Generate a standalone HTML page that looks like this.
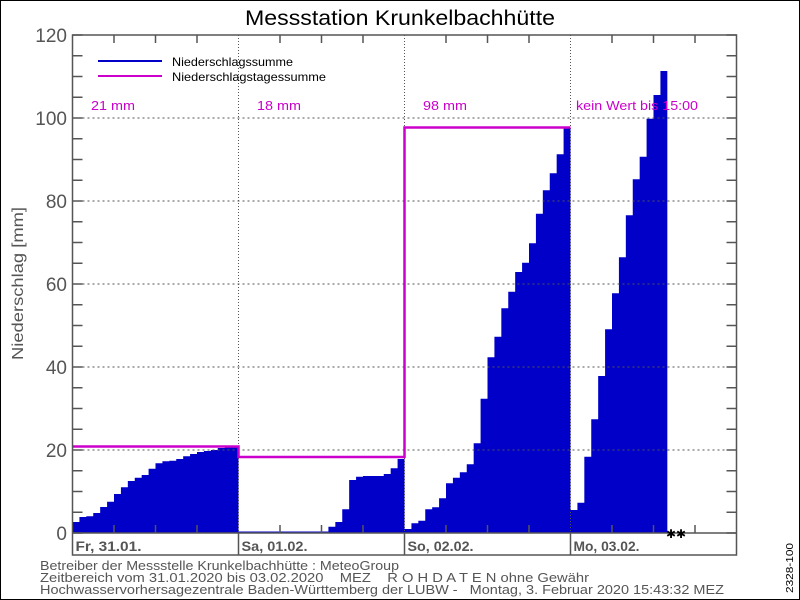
<!DOCTYPE html>
<html><head><meta charset="utf-8"><style>
html,body{margin:0;padding:0;background:#fff;}
svg{display:block;font-family:"Liberation Sans",sans-serif;}
</style></head><body>
<svg id="s" width="800" height="600" viewBox="0 0 800 600" xmlns="http://www.w3.org/2000/svg">
<rect x="0.5" y="0.5" width="799" height="599" fill="#fff" stroke="#000" stroke-width="1"/>
<text x="245" y="25" font-size="21" fill="#000" textLength="310" lengthAdjust="spacingAndGlyphs">Messstation Krunkelbachhütte</text>
</svg>
<script>
const S=document.getElementById('s');const NS='http://www.w3.org/2000/svg';
function el(t,a,txt){const e=document.createElementNS(NS,t);for(const k in a)e.setAttribute(k,a[k]);if(txt!==undefined)e.textContent=txt;S.appendChild(e);return e;}
const L=72.5,R=736.5,T=35,B=533,DW=166,BW=DW/24;
const yv=v=>B-v*4.15;
const days=[
[522,517,516.3,513,507,501.7,494,487.3,481,477.7,475,468.7,463.3,461.3,460.7,459,456.3,454,452,451,450,448,447.3,447.3],
[531.5,531.5,531.5,531.5,531.5,531.5,531.5,531.5,531.5,531.5,531.5,531.5,531.5,526.7,522,509.3,480,476.7,476,476,476,474,468.3,459],
[529,523.3,520.7,509.3,507.3,498.3,483.3,477.7,472.3,464.3,443.3,398.7,357.3,336.7,308.3,291.7,272,262.7,243.3,213.7,190.3,173.3,154.3,127.7],
[510,502.7,456.7,419.3,376,329.3,293.3,257.3,215.3,179.3,156.7,118.7,95,71]];
days.forEach((d,i)=>{let x0=L+i*DW;let p=`M${x0},${B}`;d.forEach((y,j)=>{p+=` L${x0+j*BW},${y} L${x0+(j+1)*BW},${y}`;});p+=` L${x0+d.length*BW},${B} Z`;el('path',{d:p,fill:'#0000c8'});});
[20,40,60,80,100].forEach(v=>el('line',{x1:L,x2:R,y1:yv(v),y2:yv(v),stroke:'#555','stroke-dasharray':'2,3','stroke-width':1}));
[1,2,3].forEach(i=>el('line',{x1:L+i*DW,x2:L+i*DW,y1:T,y2:B,stroke:'#555','stroke-dasharray':'1,2','stroke-width':1}));
el('path',{d:`M${L},446.5 L${L+DW},446.5 L${L+DW},457 L${L+2*DW},457 L${L+2*DW},127.5 L${L+3*DW},127.5`,fill:'none',stroke:'#cc00cc','stroke-width':2.5});
el('rect',{x:L,y:T,width:R-L,height:555-T,fill:'none',stroke:'#555','stroke-width':1.5});
el('line',{x1:L,x2:R,y1:B,y2:B,stroke:'#555','stroke-width':1.5});
[1,2,3].forEach(i=>el('line',{x1:L+i*DW,x2:L+i*DW,y1:B,y2:555,stroke:'#555','stroke-width':1.5}));
for(let v=0;v<=120;v+=5){const y=yv(v);el('line',{x1:L,x2:L+10,y1:y,y2:y,stroke:'#555','stroke-width':1.5});el('line',{x1:R-10,x2:R,y1:y,y2:y,stroke:'#555','stroke-width':1.5});}
for(let v=0;v<=120;v+=20)el('text',{x:67,y:yv(v)+7,'text-anchor':'end','font-size':19,fill:'#555'},String(v));
for(let k=1;k<16;k++){if(k%4==0)continue;const x=L+k*DW/4;el('line',{x1:x,x2:x,y1:T,y2:T+8,stroke:'#555','stroke-width':1.5});el('line',{x1:x,x2:x,y1:B-8,y2:B,stroke:'#555','stroke-width':1.5});}
['Fr, 31.01.','Sa, 01.02.','So, 02.02.','Mo, 03.02.'].forEach((t,i)=>el('text',{x:L+i*DW+3,y:551,'font-size':14,'font-weight':'bold',fill:'#555',textLength:66,lengthAdjust:'spacingAndGlyphs'},t));
[['21 mm',91,44],['18 mm',257,44],['98 mm',423,44],['kein Wert bis 15:00',576,122]].forEach(a=>el('text',{x:a[1],y:110,'font-size':13,fill:'#cc00cc',textLength:a[2],lengthAdjust:'spacingAndGlyphs'},a[0]));
el('line',{x1:98,x2:162,y1:61,y2:61,stroke:'#0000c8','stroke-width':2});
el('line',{x1:98,x2:162,y1:76,y2:76,stroke:'#cc00cc','stroke-width':2});
el('text',{x:172,y:66,'font-size':12,fill:'#000',textLength:121,lengthAdjust:'spacingAndGlyphs'},'Niederschlagssumme');
el('text',{x:172,y:81,'font-size':12,fill:'#000',textLength:154,lengthAdjust:'spacingAndGlyphs'},'Niederschlagstagessumme');
el('text',{x:-360,y:23,'font-size':16,fill:'#555',transform:'rotate(-90)',textLength:153,lengthAdjust:'spacingAndGlyphs'},'Niederschlag [mm]');
el('text',{x:666,y:538,'font-size':12,fill:'#000'},'✱✱');
[['Betreiber der Messstelle Krunkelbachhütte : MeteoGroup',359],['Zeitbereich vom 31.01.2020 bis 03.02.2020    MEZ    R O H D A T E N ohne Gewähr',549],['Hochwasservorhersagezentrale Baden-Württemberg der LUBW -   Montag, 3. Februar 2020 15:43:32 MEZ',684]].forEach((t,i)=>el('text',{x:40,y:570+i*12,'font-size':13,fill:'#555',style:'white-space:pre',textLength:t[1],lengthAdjust:'spacingAndGlyphs'},t[0]));
el('text',{x:-593,y:793,'font-size':10,fill:'#000',transform:'rotate(-90)',textLength:50,lengthAdjust:'spacingAndGlyphs'},'2328-100');
</script>
</body></html>
